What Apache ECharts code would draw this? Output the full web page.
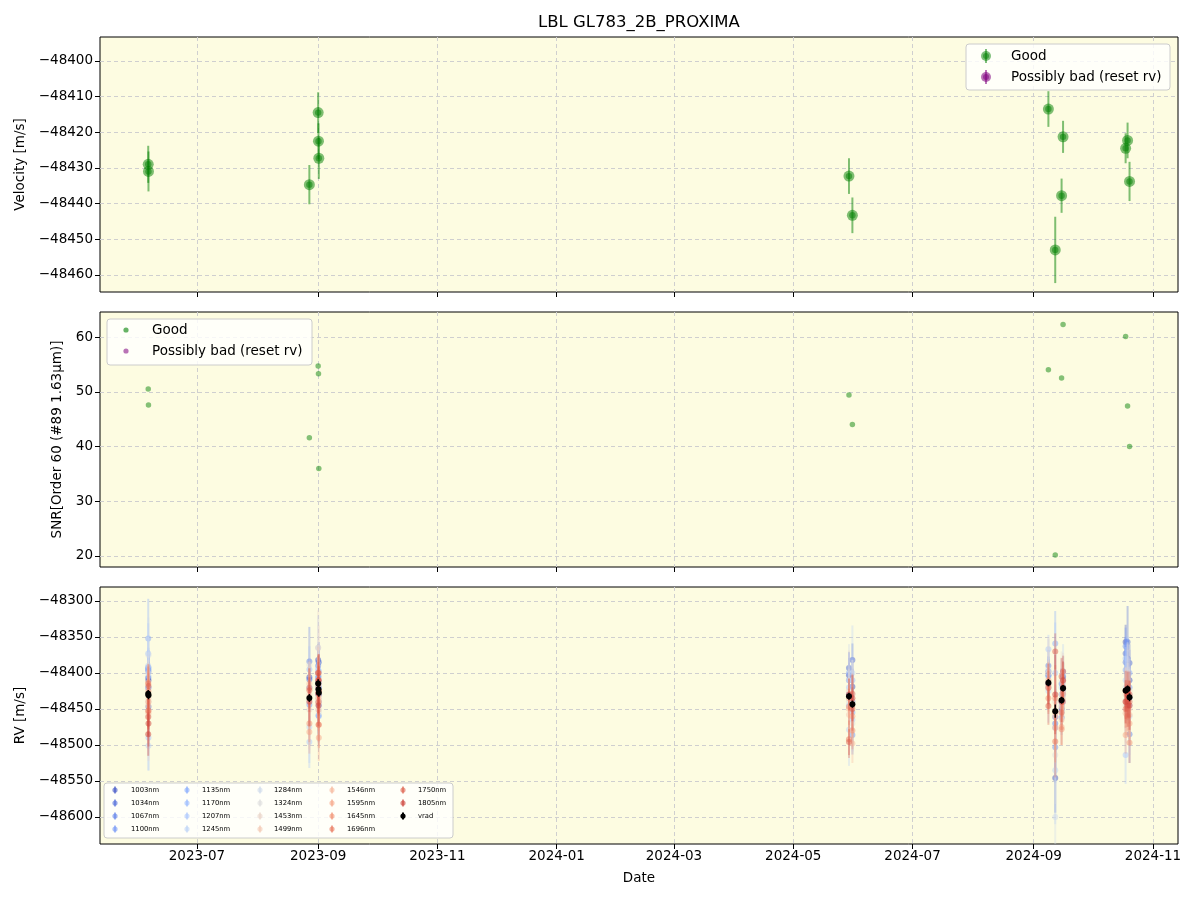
<!DOCTYPE html>
<html>
<head>
<meta charset="utf-8">
<script src="https://cdn.jsdelivr.net/npm/echarts@6/dist/echarts.min.js"></script>
<style>html,body{margin:0;padding:0;background:#fff}#c{width:1200px;height:900px}</style>
</head>
<body>
<div id="c"></div>
<script>
// ---------------- DATA ----------------
const epochDates = ['2023-06-06T02:00','2023-06-06T05:00','2023-08-27T12:00','2023-09-01T00:00','2023-09-01T04:00','2023-09-01T08:00',
  '2024-05-29T12:00','2024-05-31T06:00','2024-09-08T12:00','2024-09-12T00:00','2024-09-15T06:00','2024-09-16T00:00',
  '2024-10-18T00:00','2024-10-19T00:00','2024-10-20T00:00'];
const vrad    = [-48429.0,-48431.0,-48434.7,-48414.5,-48422.5,-48427.3,-48432.3,-48443.3,-48413.5,-48453.0,-48437.8,-48421.3,-48424.5,-48422.3,-48433.8];
const vradErr = [5.2,5.6,5.5,5.7,5.0,5.8,5.0,5.0,5.0,9.3,4.8,4.5,4.2,5.0,5.5];
const snr     = [50.5,47.6,41.6,54.7,53.3,36.0,49.4,44.0,54.0,20.2,52.5,62.3,60.1,47.4,40.0];
const bands = ['1003nm','1034nm','1067nm','1100nm','1135nm','1170nm','1207nm','1245nm','1284nm','1324nm',
  '1453nm','1499nm','1546nm','1595nm','1645nm','1696nm','1750nm','1805nm'];
// per-band RV, one row per epoch, columns follow `bands`
const bandRV = [
  [-48407,-48395,-48421,-48392,-48352,-48396,-48373,-48390,-48400,-48420,-48440,-48430,-48445,-48413,-48453,-48415,-48461,-48485],
  [-48410,-48447,-48398,-48420,-48393,-48405,-48490,-48501,-48375,-48440,-48460,-48435,-48456,-48440,-48425,-48452,-48418,-48470],
  [-48406,-48409,-48384,-48444,-48420,-48395,-48496,-48475,-48440,-48389,-48451,-48430,-48415,-48482,-48470,-48421,-48424,-48440],
  [-48382,-48400,-48390,-48407,-48420,-48395,-48430,-48365,-48410,-48425,-48365,-48400,-48435,-48420,-48441,-48400,-48410,-48428],
  [-48415,-48430,-48405,-48459,-48412,-48440,-48420,-48451,-48410,-48435,-48440,-48410,-48451,-48430,-48472,-48415,-48400,-48445],
  [-48430,-48385,-48420,-48445,-48398,-48460,-48440,-48415,-48430,-48455,-48400,-48435,-48425,-48490,-48440,-48472,-48425,-48410],
  [-48403,-48393,-48410,-48430,-48400,-48445,-48420,-48479,-48410,-48440,-48425,-48458,-48450,-48435,-48447,-48492,-48496,-48430],
  [-48419,-48382,-48440,-48486,-48455,-48410,-48465,-48400,-48430,-48470,-48440,-48445,-48498,-48460,-48480,-48429,-48450,-48435],
  [-48403,-48398,-48390,-48415,-48420,-48405,-48367,-48425,-48395,-48410,-48400,-48418,-48420,-48410,-48435,-48421,-48446,-48415],
  [-48546,-48461,-48470,-48503,-48359,-48476,-48400,-48535,-48600,-48514,-48440,-48460,-48455,-48476,-48435,-48495,-48370,-48430],
  [-48450,-48440,-48415,-48462,-48430,-48445,-48420,-48455,-48440,-48410,-48430,-48465,-48447,-48475,-48478,-48455,-48405,-48440],
  [-48405,-48420,-48398,-48430,-48410,-48440,-48425,-48402,-48415,-48430,-48420,-48435,-48412,-48428,-48440,-48398,-48420,-48410],
  [-48357,-48373,-48385,-48363,-48396,-48380,-48514,-48410,-48420,-48438,-48445,-48430,-48456,-48486,-48440,-48450,-48425,-48440],
  [-48380,-48357,-48400,-48390,-48381,-48410,-48395,-48420,-48405,-48430,-48415,-48440,-48428,-48450,-48460,-48438,-48445,-48430],
  [-48410,-48386,-48485,-48420,-48400,-48435,-48445,-48460,-48430,-48440,-48425,-48450,-48458,-48470,-48497,-48440,-48430,-48445]
];
const bandErr = [
  [22,21,23,24,55,28,42,40,50,44,58,38,30,26,23,24,26,30],
  [24,22,25,26,28,30,45,35,52,46,62,40,32,28,25,26,30,32],
  [26,24,48,28,30,32,36,50,48,44,55,40,32,30,26,28,30,34],
  [22,20,22,24,25,27,40,45,44,40,52,36,28,25,22,24,25,28],
  [23,21,23,25,26,28,42,46,45,42,54,37,29,26,23,25,26,29],
  [30,28,30,32,34,36,52,58,56,50,66,46,36,32,30,32,34,36],
  [24,22,24,26,28,30,48,50,50,46,56,40,32,28,25,26,18,22],
  [25,23,25,27,28,30,44,66,48,44,58,40,27,30,26,28,30,32],
  [22,21,22,24,25,27,20,44,42,40,50,36,28,25,22,24,26,28],
  [48,45,48,50,45,58,70,75,80,68,85,60,52,48,46,50,25,55],
  [22,20,22,24,25,27,40,44,42,40,50,36,28,25,22,24,26,28],
  [20,19,21,22,24,26,38,42,40,38,48,34,26,24,21,22,24,26],
  [24,22,24,26,28,30,40,46,44,40,52,38,30,26,24,26,28,30],
  [26,50,26,28,30,32,46,52,48,44,56,40,32,30,26,28,30,32],
  [28,26,40,30,32,34,48,54,50,46,58,42,34,30,28,30,32,34]
];
const xTickDates = ['2023-07-01','2023-09-01','2023-11-01','2024-01-01','2024-03-01','2024-05-01','2024-07-01','2024-09-01','2024-11-01'];
const velTicks = [-48460,-48450,-48440,-48430,-48420,-48410,-48400];
const snrTicks = [20,30,40,50,60];
const rvTicks  = [-48600,-48550,-48500,-48450,-48400,-48350,-48300];

// ---------------- STYLE ----------------
const bandColors = ['rgb(65,85,199)','rgb(80,108,218)','rgb(99,131,235)','rgb(116,151,246)','rgb(135,171,253)','rgb(154,187,255)',
  'rgb(173,200,253)','rgb(190,211,246)','rgb(207,218,235)','rgb(221,221,221)','rgb(234,212,200)','rgb(243,200,179)',
  'rgb(247,185,157)','rgb(247,167,136)','rgb(242,146,115)','rgb(233,120,94)','rgb(222,96,77)','rgb(205,66,58)'];
const FONT = 'DejaVu Sans';
const BG = '#fdfce1';
const GRIDC = '#cfcfcf';
const GREEN = 'rgba(0,128,0,0.5)';
const PURPLE = 'rgba(128,0,128,0.55)';
const tParse = s => Date.parse(s + (s.length > 10 ? 'Z' : 'T00:00Z'));
const epochT = epochDates.map(tParse);
const xTicks = xTickDates.map(tParse);
const xMin = tParse('2023-05-12T10:00'), xMax = tParse('2024-11-13T19:00');
const minus = v => String(v).replace('-', '\u2212');
const fmtDate = v => { const d = new Date(v); return d.getUTCFullYear() + '-' + String(d.getUTCMonth() + 1).padStart(2, '0'); };
const withAlpha = (rgb, a) => rgb.replace('rgb(', 'rgba(').replace(')', ',' + a + ')');

const grids = [
  {left:100, right:22, top:37, height:255},
  {left:100, right:22, top:312, height:255},
  {left:100, right:22, top:587, height:257}
].map(g => Object.assign(g, {show:true, backgroundColor:BG, borderColor:'#000', borderWidth:1, containLabel:false}));

function mkX(gi, label) {
  return {
    type:'value', gridIndex:gi, min:xMin, max:xMax,
    axisLine:{show:false},
    axisTick:{show:true, customValues:xTicks, length:5, lineStyle:{color:'#000', width:1}},
    axisLabel:{show:label, customValues:xTicks, formatter:fmtDate, color:'#000', fontFamily:FONT, fontSize:13.5, margin:5},
    splitLine:{show:true, lineStyle:{color:GRIDC, type:[4,3], width:1}},
    name: label ? 'Date' : '', nameLocation:'middle', nameGap:27,
    nameTextStyle:{color:'#000', fontFamily:FONT, fontSize:13.5}
  };
}
function mkY(gi, min, max, ticks, name, gap) {
  return {
    type:'value', gridIndex:gi, min:min, max:max,
    axisLine:{show:false},
    axisTick:{show:true, customValues:ticks, length:5, lineStyle:{color:'#000', width:1}},
    axisLabel:{customValues:ticks, formatter:minus, color:'#000', fontFamily:FONT, fontSize:13.5, margin:7, padding:[3,0,0,0]},
    splitLine:{show:true, lineStyle:{color:GRIDC, type:[4,3], width:1}},
    name:name, nameLocation:'middle', nameGap:gap, nameRotate:90,
    nameTextStyle:{color:'#000', fontFamily:FONT, fontSize:13.5}
  };
}

function errRender(lineColor, lineW, dotColor, r, r2) {
  return function (params, api) {
    const x = api.value(0), y = api.value(1), e = api.value(2);
    const a = api.coord([x, y - e]), b = api.coord([x, y + e]), c = api.coord([x, y]);
    const ch = [
      {type:'line', shape:{x1:a[0], y1:a[1], x2:b[0], y2:b[1]}, style:{stroke:lineColor, lineWidth:lineW}},
      {type:'circle', shape:{cx:c[0], cy:c[1], r:r}, style:{fill:dotColor}}
    ];
    if (r2) ch.push({type:'circle', shape:{cx:c[0], cy:c[1], r:r2}, style:{fill:dotColor}});
    return {type:'group', children:ch};
  };
}

const series = [];
// Top panel
series.push({
  name:'Good', type:'custom', xAxisIndex:0, yAxisIndex:0, clip:true,
  itemStyle:{color:GREEN},
  data: epochT.map((t, i) => [t, vrad[i], vradErr[i]]),
  renderItem: errRender(GREEN, 2, GREEN, 5.5, 3.2)
});
// Middle panel
series.push({
  name:'Good', type:'scatter', xAxisIndex:1, yAxisIndex:1, symbolSize:5.5,
  itemStyle:{color:'rgba(0,128,0,0.6)'},
  data: epochT.map((t, i) => [t, snr[i]])
});
// Bottom panel: per band
bands.forEach((b, j) => {
  series.push({
    name:b, type:'custom', xAxisIndex:2, yAxisIndex:2, clip:true,
    itemStyle:{color:withAlpha(bandColors[j], 0.5)},
    data: epochT.map((t, i) => [t, bandRV[i][j], bandErr[i][j]]),
    renderItem: errRender(withAlpha(bandColors[j], 0.35), 2, withAlpha(bandColors[j], 0.5), 3)
  });
});
series.push({
  name:'vrad', type:'custom', xAxisIndex:2, yAxisIndex:2, clip:true,
  itemStyle:{color:'#000'},
  data: epochT.map((t, i) => [t, vrad[i], vradErr[i]]),
  renderItem: errRender('#000', 1.5, '#000', 3)
});

// ---------------- LEGENDS (drawn as graphic) ----------------
const txt = (x, y, s, size) => ({type:'text', z:5, x:x, y:y,
  style:{text:s, fill:'#000', font:size + 'px "DejaVu Sans"', align:'left', verticalAlign:'middle'}});
const box = (x, y, w, h) => ({type:'rect', z:3, shape:{x:x, y:y, width:w, height:h, r:3},
  style:{fill:'rgba(255,255,255,0.8)', stroke:'#cccccc', lineWidth:1}});
const ebHandle = (cx, cy, color, h, r, r2) => {
  const ch = [
    {type:'line', z:4, shape:{x1:cx, y1:cy - h, x2:cx, y2:cy + h}, style:{stroke:color, lineWidth:2}},
    {type:'circle', z:4, shape:{cx:cx, cy:cy, r:r}, style:{fill:color}}
  ];
  if (r2) ch.push({type:'circle', z:4, shape:{cx:cx, cy:cy, r:r2}, style:{fill:color}});
  return ch;
};
const graphics = [];
graphics.push({type:'text', x:639, y:23, style:{text:'LBL GL783_2B_PROXIMA', fill:'#000', font:'16.5px "DejaVu Sans"', align:'center', verticalAlign:'middle'}});
// top legend
graphics.push(box(966, 44, 204, 46));
graphics.push(...ebHandle(986, 56, GREEN, 7, 5, 3));
graphics.push(txt(1011, 56, 'Good', 13.5));
graphics.push(...ebHandle(986, 77, PURPLE, 7, 5, 3));
graphics.push(txt(1011, 77, 'Possibly bad (reset rv)', 13.5));
// middle legend
graphics.push(box(107, 319, 205, 46));
graphics.push({type:'circle', z:4, shape:{cx:126, cy:330, r:2.6}, style:{fill:'rgba(0,128,0,0.6)'}});
graphics.push(txt(152, 330, 'Good', 13.5));
graphics.push({type:'circle', z:4, shape:{cx:126, cy:351, r:2.6}, style:{fill:PURPLE}});
graphics.push(txt(152, 351, 'Possibly bad (reset rv)', 13.5));
// bottom legend
graphics.push(box(104, 783, 349, 55));
const iconX = [115, 187, 260, 332, 403];
const textX = [131, 202, 274, 347, 418];
const rowY = [790, 803, 816, 829];
const legNames = bands.concat(['vrad']);
legNames.forEach((n, k) => {
  const c = Math.floor(k / 4), r = k % 4;
  const col = n === 'vrad' ? '#000' : withAlpha(bandColors[k], 0.6);
  graphics.push(...ebHandle(iconX[c], rowY[r], col, 3.5, 2.6));
  graphics.push(txt(textX[c], rowY[r], n, 6.8));
});

const option = {
  animation:false,
  backgroundColor:'#fff',
  grid:grids,
  xAxis:[mkX(0, false), mkX(1, false), mkX(2, true)],
  yAxis:[
    mkY(0, -48464.8, -48393.3, velTicks, 'Velocity [m/s]', 70),
    mkY(1, 17.99, 64.57, snrTicks, 'SNR[Order 60 (#89 1.63\u03bcm)]', 36),
    mkY(2, -48637.5, -48280.6, rvTicks, 'RV [m/s]', 70)
  ],
  graphic:graphics,
  series:series
};
const chart = echarts.init(document.getElementById('c'), null, {renderer:'canvas'});
chart.setOption(option);
</script>
</body>
</html>
